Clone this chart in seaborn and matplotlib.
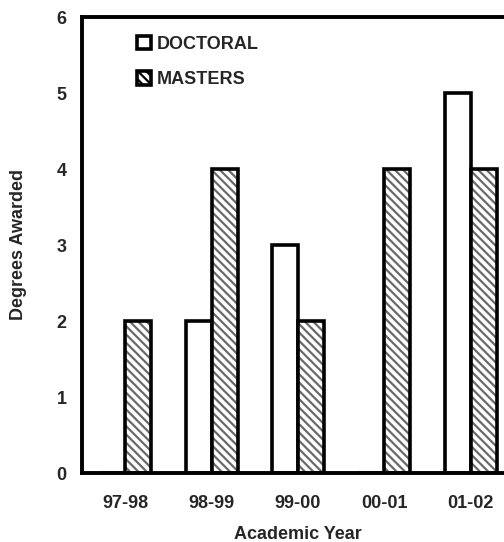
#!/usr/bin/env python3
"""Degrees awarded per academic year, doctoral vs masters."""

import matplotlib
matplotlib.use("Agg")
import matplotlib.pyplot as plt
from matplotlib.patches import Patch, Rectangle
import pandas as pd
import seaborn as sns

YEARS = ["97-98", "98-99", "99-00", "00-01", "01-02"]
DOCTORAL = [0, 2, 3, 0, 5]
MASTERS = [2, 4, 2, 4, 4]
Y_TICKS = [0, 1, 2, 3, 4, 5, 6]

HATCH_GRAY = "#6a6a6a"
FS = 13


def build_frame() -> pd.DataFrame:
    rows = []
    for year, d, m in zip(YEARS, DOCTORAL, MASTERS):
        rows.append({"year": year, "degree": "DOCTORAL", "count": d})
        rows.append({"year": year, "degree": "MASTERS", "count": m})
    return pd.DataFrame(rows)


def main():
    sns.set_style("white")
    plt.rcParams["font.family"] = ["Liberation Sans", "DejaVu Sans"]
    plt.rcParams["font.weight"] = "bold"
    plt.rcParams["hatch.linewidth"] = 1.6

    df = build_frame()

    fig = plt.figure(figsize=(5.04, 5.42), dpi=100)
    ax = fig.add_axes([82 / 504, 1 - 473 / 542, 432 / 504, (473 - 17) / 542])

    sns.barplot(
        data=df, x="year", y="count", hue="degree", order=YEARS,
        hue_order=["DOCTORAL", "MASTERS"], palette=["white", "white"],
        width=0.6, ax=ax, legend=False, errorbar=None,
        edgecolor="black", linewidth=2.6,
    )

    # masters bars: gray diagonal hatch, then a black outline on top
    n = len(YEARS)
    masters_bars = ax.patches[n:2 * n]
    for p in masters_bars:
        p.set_hatch("\\\\\\\\")
        p.set_edgecolor(HATCH_GRAY)
        p.set_linewidth(0)
        ax.add_patch(Rectangle(p.get_xy(), p.get_width(), p.get_height(),
                               fill=False, edgecolor="black", linewidth=2.6, zorder=p.get_zorder() + 0.1))

    ax.set_xlim(-0.5, n - 0.5)
    ax.set_ylim(0, 6)
    ax.set_yticks(Y_TICKS)
    ax.set_yticklabels([str(t) for t in Y_TICKS], fontsize=FS, fontweight="bold")

    ax.set_xticks(range(n))
    ax.set_xticklabels(YEARS, fontsize=FS, fontweight="bold")
    ax.set_xticks([i - 0.5 for i in range(n + 1)], minor=True)
    ax.tick_params(axis="x", which="major", length=0, pad=16)
    ax.tick_params(axis="x", which="minor", length=5, width=0.9, color="black", direction="out")
    ax.tick_params(axis="y", length=5, width=0.9, color="black", direction="out", pad=6)

    for side in ["left", "top", "bottom", "right"]:
        ax.spines[side].set_visible(True)
        ax.spines[side].set_color("black")
        ax.spines[side].set_linewidth(2.8)

    ax.set_xlabel("Academic Year", fontsize=FS, fontweight="bold", labelpad=10)
    ax.set_ylabel("Degrees Awarded", fontsize=FS, fontweight="bold", labelpad=21)

    handles = [
        Patch(facecolor="white", edgecolor="black", linewidth=2.6, label="DOCTORAL"),
        Patch(facecolor="white", edgecolor="black", linewidth=2.6, hatch="\\\\\\\\", label="MASTERS"),
    ]
    ax.legend(handles=handles, loc="upper left", bbox_to_anchor=(0.11, 0.975), frameon=False,
              prop={"size": FS, "weight": "bold"}, handlelength=0.8, handleheight=0.8,
              handletextpad=0.3, labelspacing=1.0, borderaxespad=0)

    fig.savefig("out.png", dpi=100)


if __name__ == "__main__":
    main()
